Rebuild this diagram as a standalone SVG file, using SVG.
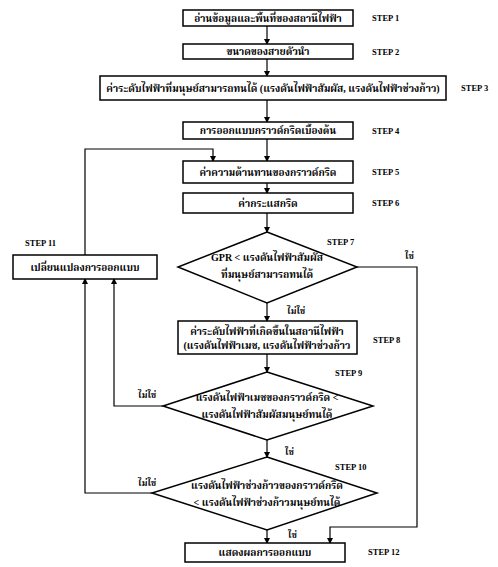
<svg xmlns="http://www.w3.org/2000/svg" width="498" height="567" viewBox="0 0 498 567">
<defs>
<marker id="ah" markerWidth="6" markerHeight="6" refX="5" refY="3" orient="auto" markerUnits="userSpaceOnUse">
<path d="M0,0 L6,3 L0,6 z" fill="#000"/>
</marker>
<style>
.b{fill:#fff;stroke:#000;stroke-width:1.5}
.t{font-family:"Liberation Serif","Noto Serif Thai","Noto Sans Thai",serif;font-size:10px;font-weight:bold;fill:#000;text-anchor:middle;dominant-baseline:central}
.s{font-family:"Liberation Serif",serif;font-size:8.5px;font-weight:bold;fill:#000;dominant-baseline:central}
.l{font-family:"Liberation Serif","Noto Serif Thai","Noto Sans Thai",serif;font-size:9px;font-weight:bold;fill:#000;dominant-baseline:central}
.c{fill:none;stroke:#000;stroke-width:1.2}
</style>
</defs>
<rect width="498" height="567" fill="#fff"/>
<g id="connectors">
<path class="c" d="M267,26 V44" marker-end="url(#ah)"/>
<path class="c" d="M267,59 V76" marker-end="url(#ah)"/>
<path class="c" d="M267,100 V122" marker-end="url(#ah)"/>
<path class="c" d="M267,139 V161" marker-end="url(#ah)"/>
<path class="c" d="M267,183 V193" marker-end="url(#ah)"/>
<path class="c" d="M267,213 V232" marker-end="url(#ah)"/>
<path class="c" d="M267,303 V321" marker-end="url(#ah)"/>
<path class="c" d="M267,354 V372" marker-end="url(#ah)"/>
<path class="c" d="M267,440 V457" marker-end="url(#ah)"/>
<path class="c" d="M267,530 V543" marker-end="url(#ah)"/>
<path class="c" d="M357,267 H417 V527 H330 V543" marker-end="url(#ah)"/>
<path class="c" d="M163,406 H114 V279" marker-end="url(#ah)"/>
<path class="c" d="M152,493 H85 V279" marker-end="url(#ah)"/>
<path class="c" d="M85,255 V149 H213 V161" marker-end="url(#ah)"/>
</g>
<g id="step1"><rect class="b" x="183" y="10" width="170" height="16"/><text class="t" x="268" y="18">อ่านข้อมูลและพื้นที่ของสถานีไฟฟ้า</text><text class="s" x="372" y="18">STEP 1</text></g>
<g id="step2"><rect class="b" x="183" y="44" width="170" height="15"/><text class="t" x="268" y="51.5">ขนาดของสายตัวนำ</text><text class="s" x="372" y="51.5">STEP 2</text></g>
<g id="step3"><rect class="b" x="100" y="76" width="346" height="24"/><text class="t" x="273" y="88">ค่าระดับไฟฟ้าที่มนุษย์สามารถทนได้ (แรงดันไฟฟ้าสัมผัส, แรงดันไฟฟ้าช่วงก้าว)</text><text class="s" x="461" y="88">STEP 3</text></g>
<g id="step4"><rect class="b" x="183" y="122" width="170" height="17"/><text class="t" x="268" y="130.5">การออกแบบกราวด์กริดเบื้องต้น</text><text class="s" x="372" y="130.5">STEP 4</text></g>
<g id="step5"><rect class="b" x="183" y="161" width="170" height="22"/><text class="t" x="268" y="172">ค่าความต้านทานของกราวด์กริด</text><text class="s" x="372" y="172">STEP 5</text></g>
<g id="step6"><rect class="b" x="183" y="193" width="170" height="20"/><text class="t" x="268" y="203">ค่ากระแสกริด</text><text class="s" x="372" y="203">STEP 6</text></g>
<g id="step7"><polygon class="b" points="267,232 357,267 267,303 178,267"/><text class="t" x="267" y="257">GPR &lt; แรงดันไฟฟ้าสัมผัส</text><text class="t" x="267" y="274">ที่มนุษย์สามารถทนได้</text><text class="s" x="327" y="242">STEP 7</text></g>
<g id="step8"><rect class="b" x="178" y="321" width="179" height="33"/><text class="t" x="267" y="331">ค่าระดับไฟฟ้าที่เกิดขึ้นในสถานีไฟฟ้า</text><text class="t" x="267" y="345">(แรงดันไฟฟ้าเมช, แรงดันไฟฟ้าช่วงก้าว</text><text class="s" x="373" y="340">STEP 8</text></g>
<g id="step9"><polygon class="b" points="267,372 373,406 267,440 163,406"/><text class="t" x="267" y="397">แรงดันไฟฟ้าเมชของกราวด์กริด &lt;</text><text class="t" x="267" y="414">แรงดันไฟฟ้าสัมผัสมนุษย์ทนได้</text><text class="s" x="335" y="373">STEP 9</text></g>
<g id="step10"><polygon class="b" points="267,457 377,493 267,530 152,493"/><text class="t" x="267" y="485">แรงดันไฟฟ้าช่วงก้าวของกราวด์กริด</text><text class="t" x="267" y="502">&lt; แรงดันไฟฟ้าช่วงก้าวมนุษย์ทนได้</text><text class="s" x="335" y="467">STEP 10</text></g>
<g id="step11"><rect class="b" x="13" y="255" width="144" height="24"/><text class="t" x="85" y="267">เปลี่ยนแปลงการออกแบบ</text><text class="s" x="25" y="243">STEP 11</text></g>
<g id="step12"><rect class="b" x="185" y="543" width="160" height="19"/><text class="t" x="265" y="552.5">แสดงผลการออกแบบ</text><text class="s" x="368" y="552">STEP 12</text></g>
<g id="labels">
<text class="l" x="405" y="256">ใช่</text>
<text class="l" x="287" y="311">ไม่ใช่</text>
<text class="l" x="138" y="395">ไม่ใช่</text>
<text class="l" x="285" y="452">ใช่</text>
<text class="l" x="138" y="483">ไม่ใช่</text>
<text class="l" x="288" y="535">ใช่</text>
</g>
</svg>
